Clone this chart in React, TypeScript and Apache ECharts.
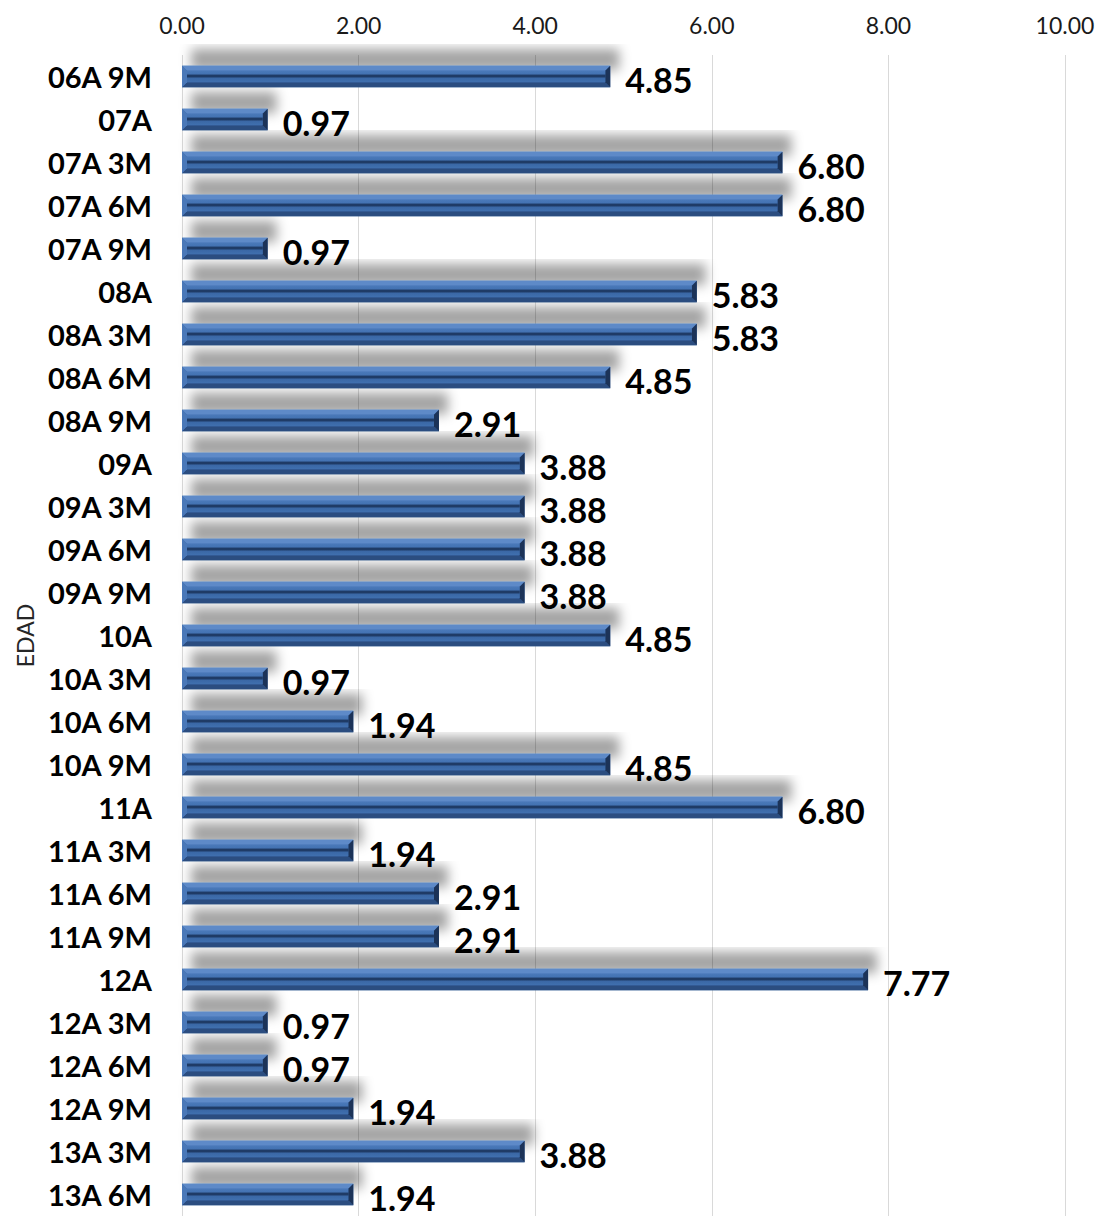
import React, { useEffect, useRef } from "react";
import * as echarts from "echarts";

const categories = [
  "06A 9M", "07A", "07A 3M", "07A 6M", "07A 9M", "08A", "08A 3M", "08A 6M", "08A 9M",
  "09A", "09A 3M", "09A 6M", "09A 9M", "10A", "10A 3M", "10A 6M", "10A 9M",
  "11A", "11A 3M", "11A 6M", "11A 9M", "12A", "12A 3M", "12A 6M", "12A 9M", "13A 3M", "13A 6M",
];
const values = [
  4.85, 0.97, 6.8, 6.8, 0.97, 5.83, 5.83, 4.85, 2.91,
  3.88, 3.88, 3.88, 3.88, 4.85, 0.97, 1.94, 4.85,
  6.8, 1.94, 2.91, 2.91, 7.77, 0.97, 0.97, 1.94, 3.88, 1.94,
];
const axisTitle = "EDAD";
const xMin = 0;
const xMax = 10;
const xStep = 2;

const FONT = "Lato, 'Open Sans', sans-serif";

export default function App() {
  const ref = useRef<HTMLDivElement>(null);
  useEffect(() => {
    if (!ref.current) return;
    const chart = echarts.init(ref.current, undefined, { renderer: "svg" });
    const renderItem = (params: any, api: any) => {
      const v = api.value(0);
      const idx = api.value(1);
      const p0 = api.coord([0, idx]);
      const p1 = api.coord([v, idx]);
      const band = api.size([0, 1])[1];
      const h = band * 0.5;
      const x0 = p0[0];
      const x1 = p1[0];
      const w = x1 - x0;
      const top = p0[1] - h / 2;
      const bot = p0[1] + h / 2;
      const b = Math.min(5, w / 2);
      const yc = p0[1];
      return {
        type: "group",
        children: [
          {
            type: "rect",
            shape: { x: x0, y: top, width: w, height: h },
            style: {
              fill: "#3D6BAA",
              shadowColor: "rgba(0,0,0,0.36)",
              shadowBlur: 12,
              shadowOffsetX: 9,
              shadowOffsetY: -17,
            },
          },
          {
            type: "polygon",
            shape: { points: [[x0, top], [x1, top], [x1 - b, top + b], [x0 + b, top + b]] },
            style: { fill: "#5E8AC8" },
          },
          {
            type: "polygon",
            shape: { points: [[x0, bot], [x1, bot], [x1 - b, bot - b], [x0 + b, bot - b]] },
            style: { fill: "#2B4D80" },
          },
          {
            type: "polygon",
            shape: { points: [[x0, top], [x0 + b, top + b], [x0 + b, bot - b], [x0, bot]] },
            style: { fill: "#4A78B8" },
          },
          {
            type: "polygon",
            shape: { points: [[x1, top], [x1 - b, top + b], [x1 - b, bot - b], [x1, bot]] },
            style: { fill: "#1C3358" },
          },
          {
            type: "rect",
            shape: { x: x0 + b, y: top + b, width: Math.max(0, w - 2 * b), height: h - 2 * b },
            style: {
              fill: new echarts.graphic.LinearGradient(0, 0, 0, 1, [
                { offset: 0, color: "#4A79B9" },
                { offset: 0.3, color: "#4372B2" },
                { offset: 0.36, color: "#1F3B66" },
                { offset: 0.55, color: "#1F3B66" },
                { offset: 0.62, color: "#3A67A5" },
                { offset: 1, color: "#4070AF" },
              ]),
            },
          },
          {
            type: "text",
            style: {
              text: v.toFixed(2),
              x: x1 + 15,
              y: yc + 3,
              verticalAlign: "middle",
              align: "left",
              fill: "#000000",
              font: `bold 34px ${FONT}`,
            },
          },
        ],
      };
    };
    chart.setOption({
      animation: false,
      grid: { left: 182, right: 46, top: 55, bottom: 2, containLabel: false },
      xAxis: {
        type: "value",
        position: "top",
        min: xMin,
        max: xMax,
        interval: xStep,
        axisLine: { show: false },
        axisTick: { show: false },
        splitLine: { show: true, lineStyle: { color: "#D9D9D9", width: 1 } },
        axisLabel: {
          formatter: (val: number) => val.toFixed(2),
          fontFamily: FONT,
          fontSize: 23,
          color: "#1A1A1A",
          margin: 19,
        },
      },
      yAxis: {
        type: "category",
        data: categories,
        inverse: true,
        name: axisTitle,
        nameLocation: "middle",
        nameGap: 130,
        nameRotate: 90,
        nameTextStyle: { fontFamily: FONT, fontSize: 23, color: "#262626" },
        axisLine: { show: false },
        axisTick: { show: false },
        splitLine: { show: false },
        axisLabel: {
          fontFamily: FONT,
          fontWeight: "bold",
          fontSize: 29,
          color: "#000000",
          margin: 30,
        },
      },
      series: [
        {
          type: "custom",
          renderItem,
          encode: { x: 0, y: 1 },
          data: values.map((v, i) => [v, i]),
        },
      ],
    });
    return () => chart.dispose();
  }, []);
  return (
    <div
      ref={ref}
      style={{ position: "absolute", left: 0, top: 0, width: 1111, height: 1218, background: "#fff" }}
    />
  );
}
